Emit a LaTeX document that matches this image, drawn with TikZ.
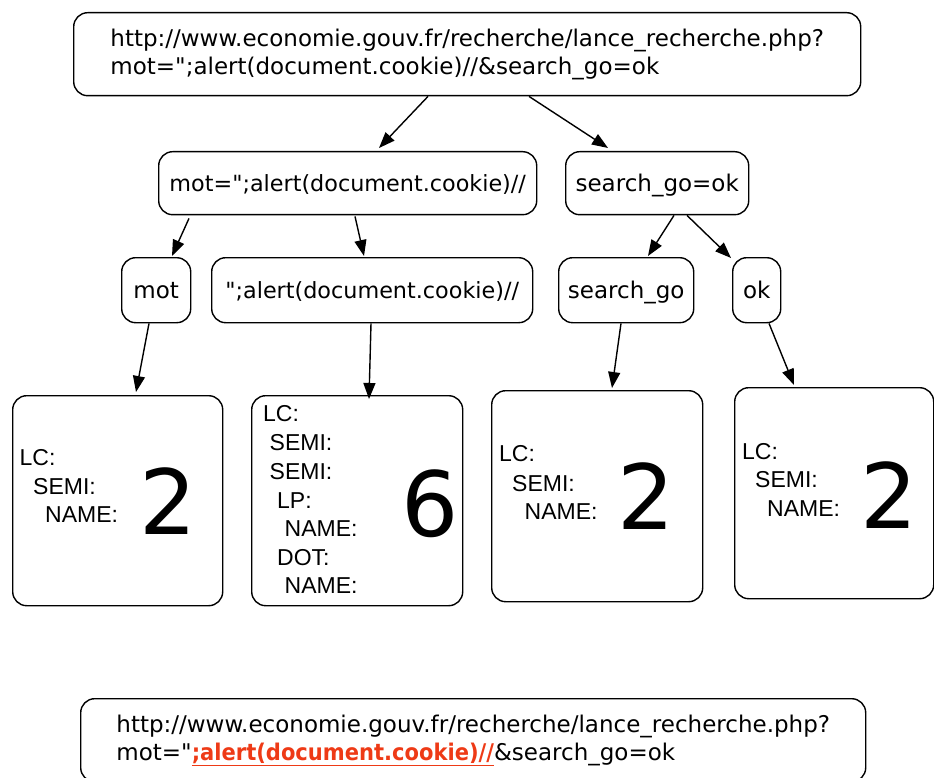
\documentclass[tikz,border=0pt]{standalone}
\usepackage{fontspec}
\setmainfont{DejaVu Sans}[Ligatures=TeXOff]
\newfontfamily\labfont{Liberation Sans}
\usetikzlibrary{arrows.meta,calc}
\definecolor{alertred}{RGB}{238,58,22}
\begin{document}
\begin{tikzpicture}[x=1pt,y=-1pt,
  box/.style={draw, line width=1.4pt, rounded corners=14pt, inner sep=0pt, anchor=north west,
    font=\fontsize{23}{28}\selectfont, align=center},
  sbox/.style={box, text height=18.5pt, text depth=2.5pt},
  arr/.style={-{Triangle[length=16pt,width=12pt]}, line width=1.4pt},
  lab/.style={anchor=base west, inner sep=0pt, font=\labfont\fontsize{23}{28}\selectfont},
  big/.style={anchor=base west, inner sep=0pt, font=\fontsize{90}{90}\selectfont}]
\useasboundingbox (0,0) rectangle (934,778);
% top
\node[box, minimum width=787pt, minimum height=83pt, align=left] (top) at (73,12)
  {http://www.economie.gouv.fr/recherche/lance\_recherche.php?\\mot=";alert(document.cookie)//\&search\_go=ok};
% level 1
\node[sbox, minimum width=378pt, minimum height=63pt, font=\fontsize{22.3}{28}\selectfont] (mid1) at (158,151) {mot=";alert(document.cookie)//};
\node[sbox, minimum width=183pt, minimum height=63pt] (mid2) at (565,151) {search\_go=ok};
% level 2
\node[sbox, minimum width=69pt, minimum height=65pt] (l1) at (121,257) {mot};
\node[sbox, minimum width=321pt, minimum height=65pt, font=\fontsize{22.3}{28}\selectfont] (l2) at (211,257) {";alert(document.cookie)//};
\node[sbox, minimum width=135pt, minimum height=65pt] (l3) at (558,257) {search\_go};
\node[sbox, minimum width=48pt, minimum height=65pt] (l4) at (732,257) {ok};
% level 3
\node[box, minimum width=210pt, minimum height=210pt] (b1) at (12,395) {};
\node[box, minimum width=211pt, minimum height=210pt] (b2) at (251,395) {};
\node[box, minimum width=211pt, minimum height=211pt] (b3) at (491,390) {};
\node[box, minimum width=199pt, minimum height=211pt] (b4) at (734,387) {};
% texts box 1
\node[lab] (b1a) at (19.5,465) {LC:};
\node[lab] (b1b) at (33,494) {SEMI:};
\node[lab] (b1c) at (45,522.5) {NAME:};
\node[big] (b1n) at (139.5,534) {2};
% texts box 2
\node[lab] (b2a) at (263,421.5) {LC:};
\node[lab] (b2b) at (269.5,450.5) {SEMI:};
\node[lab] (b2c) at (269.5,479) {SEMI:};
\node[lab] (b2d) at (277,508) {LP:};
\node[lab] (b2e) at (284.5,536.5) {NAME:};
\node[lab] (b2f) at (277,565) {DOT:};
\node[lab] (b2g) at (284.5,593) {NAME:};
\node[big] (b2n) at (401,536) {6};
% texts box 3
\node[lab] (b3a) at (499,461.5) {LC:};
\node[lab] (b3b) at (512,491) {SEMI:};
\node[lab] (b3c) at (524.5,519) {NAME:};
\node[big] (b3n) at (617,529.3) {2};
% texts box 4
\node[lab] (b4a) at (742,459) {LC:};
\node[lab] (b4b) at (755,487.3) {SEMI:};
\node[lab] (b4c) at (767,516) {NAME:};
\node[big] (b4n) at (860.5,528.3) {2};
% bottom
\node[box, minimum width=785pt, minimum height=83pt, align=left] (bot) at (80,698)
  {http://www.economie.gouv.fr/recherche/lance\_recherche.php?\\mot="\textcolor{alertred}{\scalebox{0.915}[1]{\underline{\bfseries ;alert(document.cookie)//}}}\&search\_go=ok};
% arrows
\draw[arr] ($(top.south west)+(355,0)$) -- ($(mid1.north west)+(221,-3)$);
\draw[arr] ($(top.south west)+(456,0)$) -- ($(mid2.north west)+(43,-3)$);
\draw[arr] ($(mid1.south west)+(31,3)$) -- ($(l1.north west)+(51,-1)$);
\draw[arr] ($(mid1.south west)+(197,1)$) -- ($(l2.north west)+(153,-1)$);
\draw[arr] ($(mid2.south west)+(109,0)$) -- ($(l3.north west)+(90,-1)$);
\draw[arr] ($(mid2.south west)+(122,0)$) -- ($(l4.north west)+(-1,1)$);
\draw[arr] ($(l1.south west)+(28,0)$) -- ($(b1.north west)+(124,-3)$);
\draw[arr] ($(l2.south west)+(160,0)$) -- ($(b2.north west)+(118,4)$);
\draw[arr] ($(l3.south west)+(63,0)$) -- ($(b3.north west)+(121,-2)$);
\draw[arr] ($(l4.south west)+(37,0)$) -- ($(b4.north west)+(60,-2)$);
\end{tikzpicture}
\end{document}
